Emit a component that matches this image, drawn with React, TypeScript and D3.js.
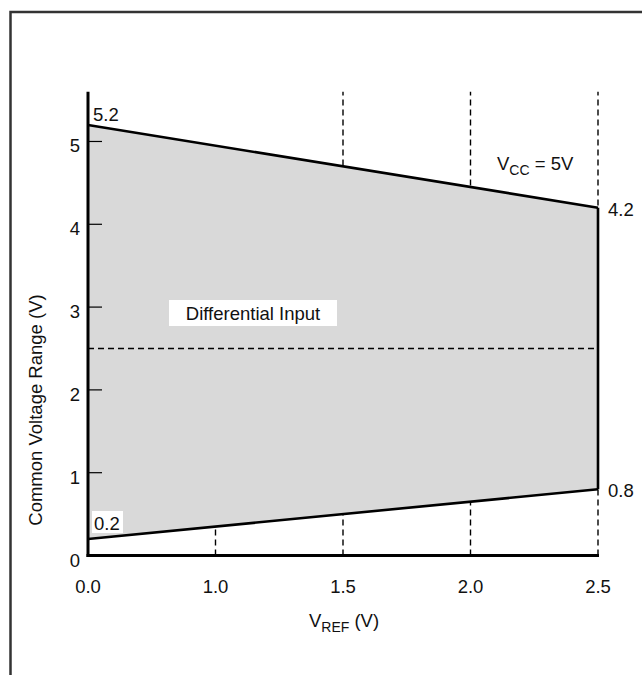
import React from "react";
import * as d3 from "d3";

const xTickLabels = ["0.0", "1.0", "1.5", "2.0", "2.5"];
const yTicks = [0, 1, 2, 3, 4, 5];
const vref = ["0.0", "2.5"];
const upperV = [5.2, 4.2];
const lowerV = [0.2, 0.8];
const midLine = 2.5;
const gridTicks = ["1.0", "1.5", "2.0", "2.5"];

const W = 642;
const H = 675;
const FONT = "'Liberation Sans', Arial, Helvetica, sans-serif";
const FS = 18.5;
const FSUB = 14;

export default function App() {
  const x = d3.scalePoint<string>().domain(xTickLabels).range([88, 598]);
  const y = d3.scaleLinear().domain([0, 5.6]).range([555.5, 91.8]);
  const X = (k: string) => x(k) as number;

  const upperPts: [number, number][] = vref.map((k, i) => [X(k), y(upperV[i])]);
  const lowerPts: [number, number][] = vref.map((k, i) => [X(k), y(lowerV[i])]);
  const poly = [...upperPts, ...lowerPts.slice().reverse()];
  const line = d3.line();
  const area = line(poly as any) + "Z";

  const x0 = X(xTickLabels[0]);
  const xN = X(xTickLabels[xTickLabels.length - 1]);
  const yTop = y(5.6);
  const yBot = y(0);

  return (
    <svg
      width={W}
      height={H}
      style={{ position: "absolute", left: 0, top: 0, background: "#fff" }}
      fontFamily={FONT}
    >
      <rect x={10.5} y={12} width={700} height={700} fill="none" stroke="#333" strokeWidth={2.5} />

      {gridTicks.map((k, i) => (
        <line
          key={k}
          x1={X(k)}
          x2={X(k)}
          y1={yBot}
          y2={i === 0 ? y(midLine) : yTop}
          stroke="#000"
          strokeWidth={1.4}
          strokeDasharray="6,4"
        />
      ))}

      <path d={area} fill="#d9d9d9" stroke="none" />

      <line
        x1={x0}
        x2={xN}
        y1={y(midLine)}
        y2={y(midLine)}
        stroke="#000"
        strokeWidth={1.4}
        strokeDasharray="6,4"
      />

      <path d={line(upperPts) as string} fill="none" stroke="#000" strokeWidth={2.6} />
      <path d={line(lowerPts) as string} fill="none" stroke="#000" strokeWidth={2.6} />
      <line x1={xN} x2={xN} y1={y(lowerV[1])} y2={y(upperV[1])} stroke="#000" strokeWidth={2.6} />

      {/* axes */}
      <line x1={x0} x2={x0} y1={yTop} y2={yBot + 1.5} stroke="#000" strokeWidth={3} />
      <line x1={x0 - 1.5} x2={xN + 1} y1={yBot} y2={yBot} stroke="#000" strokeWidth={3} />
      {yTicks.filter((t) => t > 0).map((t) => (
        <line key={t} x1={x0} x2={x0 + 14} y1={y(t)} y2={y(t)} stroke="#000" strokeWidth={1.2} />
      ))}

      {yTicks.map((t) => (
        <text key={t} x={80} y={y(t) + 11} textAnchor="end" fontSize={FS} fill="#111">
          {t}
        </text>
      ))}
      {xTickLabels.map((k) => (
        <text key={k} x={X(k)} y={593} textAnchor="middle" fontSize={FS} fill="#111">
          {k}
        </text>
      ))}

      {/* annotations */}
      <text x={93} y={y(upperV[0]) - 4} fontSize={FS} fill="#111">5.2</text>
      <text x={xN + 10} y={y(upperV[1]) + 8} fontSize={FS} fill="#111">4.2</text>
      <text x={xN + 10} y={y(lowerV[1]) + 8} fontSize={FS} fill="#111">0.8</text>
      <rect x={92} y={511} width={31} height={22} fill="#fff" />
      <text x={94} y={530} fontSize={FS} fill="#111">0.2</text>

      <rect x={169} y={300} width={168} height={26} fill="#fff" />
      <text x={253} y={319.5} textAnchor="middle" fontSize={FS} fill="#111">Differential Input</text>

      <text x={497} y={170} fontSize={FS} fill="#111">
        V<tspan fontSize={FSUB} dy={5}>CC</tspan>
        <tspan dy={-5}> = 5V</tspan>
      </text>

      <text x={344} y={627} textAnchor="middle" fontSize={FS} fill="#111">
        V<tspan fontSize={FSUB} dy={5}>REF</tspan>
        <tspan dy={-5}> (V)</tspan>
      </text>

      <text
        transform={`translate(42, 410) rotate(-90)`}
        textAnchor="middle"
        fontSize={FS}
        fill="#111"
      >
        Common Voltage Range (V)
      </text>
    </svg>
  );
}
